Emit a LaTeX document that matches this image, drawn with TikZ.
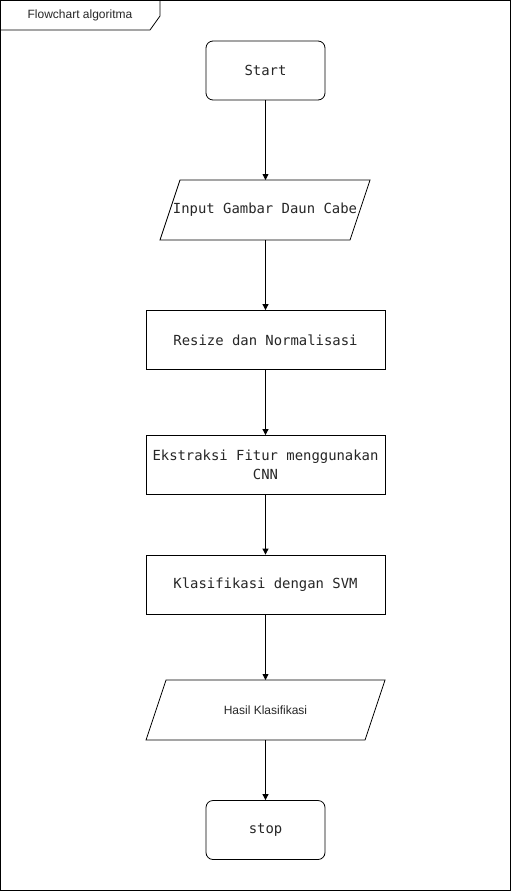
\documentclass[tikz,border=0pt]{standalone}
\usepackage{fontspec}
\setmainfont{Liberation Sans}
\setmonofont{DejaVu Sans Mono}
\usetikzlibrary{arrows.meta,shapes.geometric}
\begin{document}
\begin{tikzpicture}[x=1pt,y=-1pt,
  line width=0.8pt,
  mono/.style={font=\ttfamily\fontsize{13.9}{19}\selectfont, text=black!85, align=center},
  sans/.style={font=\fontsize{12}{14}\selectfont, text=black!85},
  roundbox/.style={draw, rounded corners=7pt, minimum width=119pt, minimum height=59pt, inner sep=0pt, mono},
  procbox/.style={draw, minimum width=239pt, minimum height=59pt, inner sep=0pt, mono},
  flow/.style={-{Triangle[length=6pt,width=6pt]}}
]
\useasboundingbox (0,0) rectangle (511,891);
% frame
\draw (0.5,0.5) rectangle (510.5,890.5);
\draw (0.5,30) -- (150,30) -- (160,16) -- (160,0.5);
\node[sans] (title) at (80,15) {Flowchart algoritma};

\node[roundbox] (start) at (265.5,70.5) {Start};
\draw (180,180) -- (370,180) -- (350,240) -- (160,240) -- cycle;
\node[mono, inner sep=0pt] (input) at (265,210) {Input Gambar Daun Cabe};
\coordinate (inTop) at (265.5,180);
\coordinate (inBot) at (265.5,240);
\node[procbox] (resize) at (265.5,340) {Resize dan Normalisasi};
\node[procbox] (ekstr) at (265.5,465) {Ekstraksi Fitur menggunakan\\CNN};
\node[procbox] (klas) at (265.5,584.5) {Klasifikasi dengan SVM};
\draw (166,680) -- (385,680) -- (365,740) -- (146,740) -- cycle;
\node[sans] (hasil) at (265.5,710) {Hasil Klasifikasi};
\coordinate (haTop) at (265.5,680);
\coordinate (haBot) at (265.5,740);
\node[roundbox] (stop) at (265.5,830) {stop};

\draw[flow] (start.south) -- (inTop);
\draw[flow] (inBot) -- (resize.north);
\draw[flow] (resize.south) -- (ekstr.north);
\draw[flow] (ekstr.south) -- (klas.north);
\draw[flow] (klas.south) -- (haTop);
\draw[flow] (haBot) -- (stop.north);
\end{tikzpicture}
\end{document}
